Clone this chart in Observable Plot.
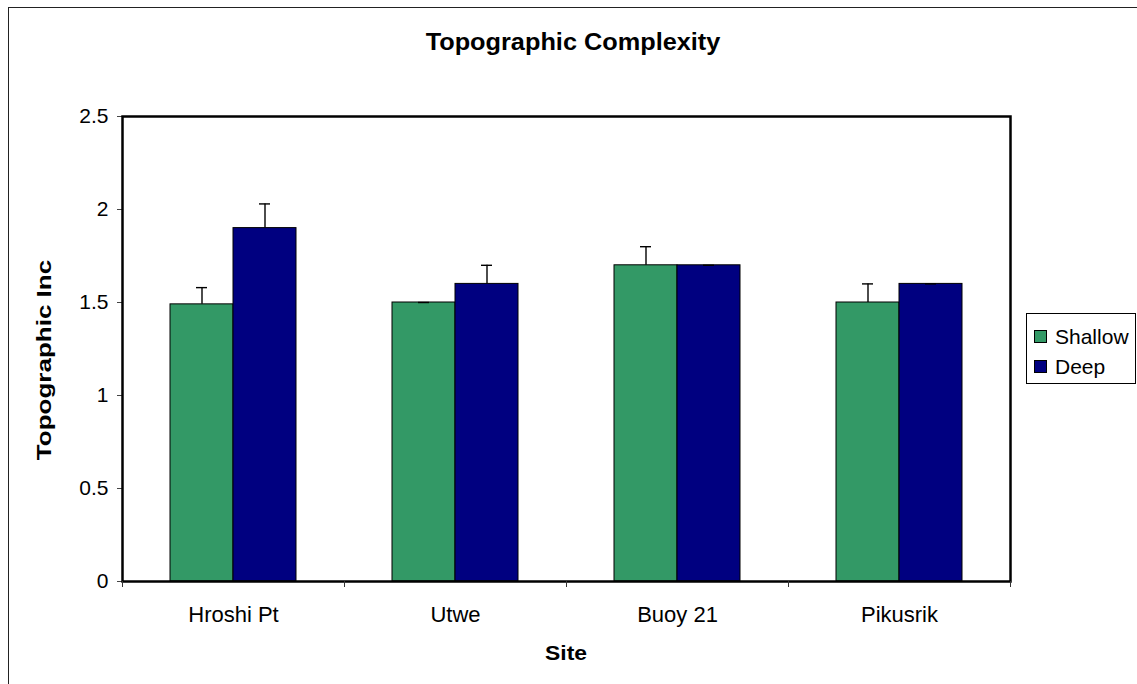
<!DOCTYPE html>
<html>
<head>
<meta charset="utf-8">
<script src="https://cdn.jsdelivr.net/npm/d3@7"></script>
<script src="https://cdn.jsdelivr.net/npm/@observablehq/plot@0.6"></script>
<style>
  html, body { margin: 0; padding: 0; background: #fff; overflow: hidden; }
  body { width: 1137px; height: 684px; position: relative; font-family: "Liberation Sans", Arial, sans-serif; color: #000; }
  #outer { position: absolute; left: 8px; top: 7px; width: 1300px; height: 900px; border: 1px solid #222; }
  .abs { position: absolute; }
  #title { left: 0; width: 1146px; top: 31px; text-align: center; font-weight: bold; font-size: 23px; line-height: 1; transform: scaleX(1.1); white-space: nowrap; }
  #xlabel { left: 0; width: 1132px; top: 642px; text-align: center; font-weight: bold; font-size: 21px; line-height: 1; transform: scaleX(1.09); }
  #ylabel { left: 44px; top: 360px; font-weight: bold; font-size: 20px; line-height: 1; white-space: nowrap; transform: translate(-50%, -50%) rotate(-90deg) scaleX(1.3); }
  #legend { left: 1026px; top: 313px; width: 108px; height: 69px; border: 1px solid #000; background: #fff; }
  .row { position: absolute; left: 0; height: 24px; display: flex; align-items: center; font-size: 21px; line-height: 1; white-space: nowrap; }
  .sw { width: 11px; height: 11px; border: 1px solid #000; margin-left: 7px; margin-right: 8px; }
  #plotA, #plotB { position: absolute; left: 0; top: 0; }
</style>
</head>
<body>
<div id="outer"></div>
<div id="plotA"></div>
<div id="plotB"></div>
<div id="title" class="abs">Topographic Complexity</div>
<div id="ylabel" class="abs">Topographic Inc</div>
<div id="xlabel" class="abs">Site</div>
<div id="legend" class="abs"></div>
<script>
const sites = ["Hroshi Pt", "Utwe", "Buoy 21", "Pikusrik"];
const series = ["Shallow", "Deep"];
const seriesColors = ["#339966", "#000080"];
const shallowValues = [1.49, 1.50, 1.70, 1.50];
const shallowErrors = [0.09, 0.00, 0.10, 0.10];
const deepValues = [1.90, 1.60, 1.70, 1.60];
const deepErrors = [0.13, 0.10, 0.00, 0.00];
const yTicks = [0, 0.5, 1, 1.5, 2, 2.5];

const rows = sites.flatMap((site, i) => [
  {site, series: "Shallow", value: shallowValues[i], err: shallowErrors[i]},
  {site, series: "Deep", value: deepValues[i], err: deepErrors[i]}
]);

const W = 1137, H = 684;
const margins = {marginLeft: 122, marginRight: 127, marginTop: 116, marginBottom: 103};
const font = {fontFamily: '"Liberation Sans", Arial, sans-serif', background: "transparent", color: "#000"};

const plotA = Plot.plot({
  width: W, height: H, ...margins,
  style: {...font},
  fx: {domain: sites, padding: 0, label: null},
  x: {domain: series, paddingInner: 0, paddingOuter: 0.748, axis: null},
  y: {domain: [0, 2.5], label: null},
  color: {domain: series, range: seriesColors},
  marks: [
    Plot.barY(rows, {fx: "site", x: "series", y: "value", fill: "series", stroke: "#000", strokeWidth: 1}),
    Plot.ruleX(rows, {fx: "site", x: "series", y1: "value", y2: d => d.value + d.err, stroke: "#000", strokeWidth: 1.4}),
    Plot.tickY(rows, {fx: "site", x: "series", y: d => d.value + d.err, insetLeft: 26, insetRight: 26, stroke: "#000", strokeWidth: 1.4}),
    Plot.axisY({ticks: yTicks, tickFormat: d => String(d), tickSize: 5, tickPadding: 9, fontSize: 21, stroke: "#444", label: null}),
    Plot.axisFx({anchor: "bottom", tickSize: 0, tickPadding: 25, fontSize: 22, label: null})
  ]
});
document.getElementById("plotA").appendChild(plotA);

const plotB = Plot.plot({
  width: W, height: H, ...margins,
  style: {...font},
  x: {domain: [0, sites.length], axis: null},
  y: {domain: [0, 2.5], axis: null},
  marks: [
    Plot.frame({stroke: "#000", strokeWidth: 2.5}),
    Plot.axisX({ticks: d3.range(sites.length + 1), tickFormat: () => "", tickSize: 6, stroke: "#333", label: null})
  ]
});
document.getElementById("plotB").appendChild(plotB);

const legend = document.getElementById("legend");
series.forEach((s, i) => {
  const row = document.createElement("div");
  row.className = "row";
  row.style.top = (10 + 30 * i) + "px";
  const sw = document.createElement("div");
  sw.className = "sw";
  sw.style.background = seriesColors[i];
  const t = document.createElement("span");
  t.textContent = s;
  row.appendChild(sw);
  row.appendChild(t);
  legend.appendChild(row);
});
</script>
</body>
</html>
